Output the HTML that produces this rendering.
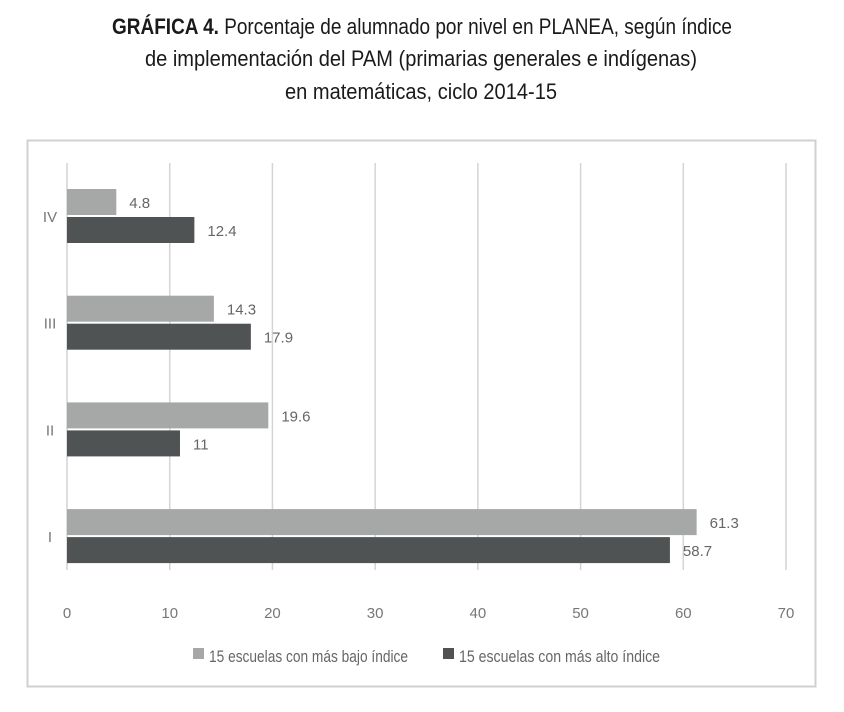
<!DOCTYPE html>
<html><head><meta charset="utf-8"><style>
body{margin:0;background:#fff;width:844px;height:707px;overflow:hidden}
svg text{font-family:"Liberation Sans Narrow","Liberation Sans",sans-serif}
</style></head><body>
<svg id="c" width="844" height="707">
<g font-weight="bold" font-size="22" fill="#1a1a1a" text-anchor="middle">
<text x="422" y="34" textLength="620" lengthAdjust="spacingAndGlyphs">GRÁFICA 4. <tspan font-weight="normal">Porcentaje de alumnado por nivel en PLANEA, según índice</tspan></text>
<text x="421" y="66" textLength="552" lengthAdjust="spacingAndGlyphs" font-weight="normal">de implementación del PAM (primarias generales e indígenas)</text>
<text x="421" y="99" textLength="272" lengthAdjust="spacingAndGlyphs" font-weight="normal">en matemáticas,  ciclo 2014-15</text>
</g>
<rect x="27.5" y="140.5" width="788" height="546" fill="none" stroke="#d0d0d0" stroke-width="2"/>
<g id="grid"></g><g id="bars"></g>
<g font-size="17" fill="#666">
<rect x="193" y="648" width="11" height="11" fill="#a6a8a8"/>
<text x="209" y="662" textLength="199" lengthAdjust="spacingAndGlyphs">15 escuelas con más bajo índice</text>
<rect x="443" y="648" width="11" height="11" fill="#505354"/>
<text x="459" y="662" textLength="201" lengthAdjust="spacingAndGlyphs">15 escuelas con más alto índice</text>
</g>
</svg>
<script>
const categories=["IV","III","II","I"];
const lowValues=[4.8,14.3,19.6,61.3];
const highValues=[12.4,17.9,11,58.7];
const ticks=[0,10,20,30,40,50,60,70];
const NS="http://www.w3.org/2000/svg";
const x=v=>67+v*(786-67)/70;
const yc=i=>216+i*106.7;
function mk(t,a,p){const e=document.createElementNS(NS,t);for(const k in a)e.setAttribute(k,a[k]);p.appendChild(e);return e;}
const g=document.getElementById('grid'),b=document.getElementById('bars');
ticks.forEach(t=>{
 const l=mk('line',{x1:x(t),x2:x(t),y1:163,y2:570,stroke:'#d4d4d4','stroke-width':t===0?1.5:1.5},g);
 
 
 const tx=mk('text',{x:x(t),y:618,'text-anchor':'middle','font-size':15,fill:'#777'},g);
 tx.textContent=t;
 
 
});
categories.forEach((c,i)=>{
 const cy=yc(i);
 const cl=mk('text',{x:50,y:cy+6,'text-anchor':'middle','font-size':15,fill:'#777'},b);
 cl.textContent=c;
 
 
 [[lowValues[i],'#a6a8a8',cy-27,'low'],[highValues[i],'#505354',cy+1,'high']].forEach(([v,col,y,s])=>{
  const r=mk('rect',{x:x(0),y:y,width:x(v)-x(0),height:26,fill:col},b);
  
  
  const t=mk('text',{x:x(v)+13,y:y+19,'font-size':15,fill:'#666'},b);
  t.textContent=v;
  
  
 });
});
</script>
</body></html>
